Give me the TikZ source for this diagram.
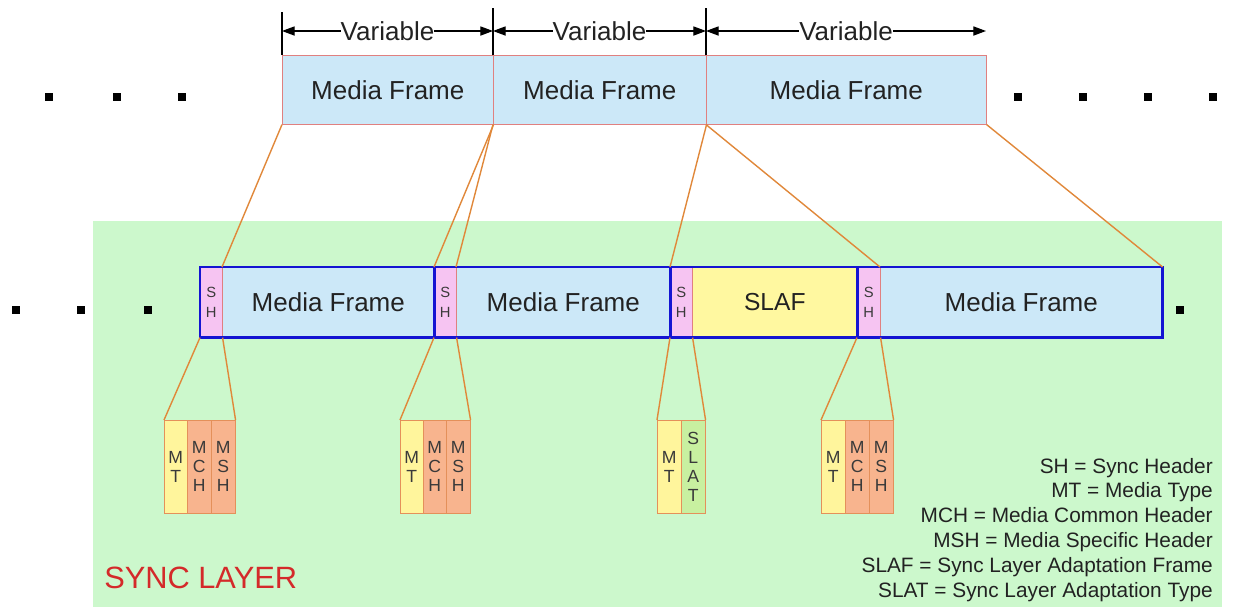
\documentclass[tikz,border=0pt]{standalone}
\usepackage{fontspec}
\setmainfont{Liberation Sans}
\usetikzlibrary{arrows.meta}

\newdimen\pxu \pxu=0.025cm

\definecolor{frameblue}{HTML}{CCE8F8}
\definecolor{framered}{HTML}{E08080}
\definecolor{layergreen}{HTML}{CCF8CC}
\definecolor{syncblue}{HTML}{1414D2}
\definecolor{shpink}{HTML}{F6C4F2}
\definecolor{slafyellow}{HTML}{FFF8A0}
\definecolor{linkorange}{HTML}{E0883A}
\definecolor{mtyellow}{HTML}{FFF59C}
\definecolor{hdorange}{HTML}{F8B48E}
\definecolor{slatgreen}{HTML}{C8F0A0}
\definecolor{celledge}{HTML}{E4905A}
\definecolor{celltext}{HTML}{3A3A3A}
\definecolor{textgray}{HTML}{222222}
\definecolor{syncred}{HTML}{D42A2A}

\tikzset{
  topframe/.style={draw=framered, fill=frameblue, anchor=north west, inner sep=0pt,
    minimum height=69\pxu, text=textgray, font=\fontsize{18.5}{22}\selectfont},
  midframe/.style={topframe, minimum height=70\pxu},
  shcell/.style={midframe, fill=shpink, align=center, text=celltext,
    font=\fontsize{10.5}{14}\selectfont},
  slafcell/.style={midframe, fill=slafyellow, font=\fontsize{17.5}{22}\selectfont},
  cell/.style={draw=celledge, anchor=north west, inner sep=0pt, minimum height=93\pxu,
    align=center, text=celltext, font=\fontsize{12.5}{13.5}\selectfont},
  mtcell/.style={cell, fill=mtyellow},
  hdcell/.style={cell, fill=hdorange},
  slatcell/.style={cell, fill=slatgreen},
  syncbox/.style={draw=syncblue, line width=1.8pt},
  link/.style={draw=linkorange, line width=1pt},
  dimline/.style={black, line width=0.9pt},
  dimarrow/.style={dimline, {Triangle[length=9pt,width=6.5pt]}-{Triangle[length=9pt,width=6.5pt]}},
  varlabel/.style={fill=white, inner sep=0pt, text=textgray, font=\fontsize{18.5}{22}\selectfont},
  dot/.style={fill=black, inner sep=0pt, minimum size=8\pxu},
  legend/.style={anchor=base east, inner sep=0pt, text=textgray, font=\fontsize{14.8}{17}\selectfont},
}

\begin{document}
\begin{tikzpicture}[x=0.025cm, y=-0.025cm]
    \useasboundingbox (0,0) rectangle (1236,607);
    % Sync layer area
    \fill[layergreen] (93,221) rectangle (1222,607);
    \node[anchor=west, inner sep=0pt, text=syncred, font=\fontsize{21.9}{26}\selectfont] (layer) at (104,578) {SYNC LAYER};

    % Media frames
    \node[topframe, minimum width=211\pxu] (t1) at (282,55) {Media Frame};
    \node[topframe, minimum width=213\pxu] (t2) at (493,55) {Media Frame};
    \node[topframe, minimum width=280\pxu] (t3) at (706,55) {Media Frame};

    % Dimension lines
    \coordinate (tk1) at (282,12);
    \coordinate (tk2) at (493,8);
    \coordinate (tk3) at (706,8);
    \coordinate (a1) at (282,31);
    \coordinate (a2) at (493,31);
    \coordinate (a3) at (706,31);
    \coordinate (a4) at (986,31);
    \draw[dimline] (t1.north west) -- (tk1);
    \draw[dimline] (t2.north west) -- (tk2);
    \draw[dimline] (t3.north west) -- (tk3);
    \draw[dimarrow] (a1) -- node[varlabel] (v1) {Variable} (a2);
    \draw[dimarrow] (a2) -- node[varlabel] (v2) {Variable} (a3);
    \draw[dimarrow] (a3) -- node[varlabel] (v3) {Variable} (a4);

    % Sync layer frames
    \node[shcell, minimum width=22\pxu] (sh1) at (200,267) {S\\H};
    \node[midframe, minimum width=212\pxu] (mf1) at (222,267) {Media Frame};
    \node[shcell, minimum width=22\pxu] (sh2) at (434,267) {S\\H};
    \node[midframe, minimum width=214\pxu] (mf2) at (456,267) {Media Frame};
    \node[shcell, minimum width=22\pxu] (sh3) at (670,267) {S\\H};
    \node[slafcell, minimum width=165\pxu] (slaf) at (692,267) {SLAF};
    \node[shcell, minimum width=23\pxu] (sh4) at (857,267) {S\\H};
    \node[midframe, minimum width=282\pxu] (mf3) at (880,267) {Media Frame};
    \draw[syncbox] (sh1.north west) rectangle (mf1.south east);
    \draw[syncbox] (sh2.north west) rectangle (mf2.south east);
    \draw[syncbox] (sh3.north west) rectangle (slaf.south east);
    \draw[syncbox] (sh4.north west) rectangle (mf3.south east);

    % Sync headers
    \node[mtcell, minimum width=23\pxu] (mt1) at (164,420) {M\\T};
    \node[hdcell, minimum width=24\pxu] (mch1) at (187,420) {M\\C\\H};
    \node[hdcell, minimum width=24\pxu] (msh1) at (211,420) {M\\S\\H};
    \node[mtcell, minimum width=23\pxu] (mt2) at (400,420) {M\\T};
    \node[hdcell, minimum width=23\pxu] (mch2) at (423,420) {M\\C\\H};
    \node[hdcell, minimum width=24\pxu] (msh2) at (446,420) {M\\S\\H};
    \node[mtcell, minimum width=24\pxu] (mt3) at (657,420) {M\\T};
    \node[slatcell, minimum width=24\pxu] (slat) at (681,420) {S\\L\\A\\T};
    \node[mtcell, minimum width=24\pxu] (mt4) at (821,420) {M\\T};
    \node[hdcell, minimum width=24\pxu] (mch4) at (845,420) {M\\C\\H};
    \node[hdcell, minimum width=24\pxu] (msh4) at (869,420) {M\\S\\H};

    % Links
    \draw[link] (t1.south west) -- (mf1.north west);
    \draw[link] (t1.south east) -- (sh2.north west);
    \draw[link] (t2.south west) -- (mf2.north west);
    \draw[link] (t2.south east) -- (sh3.north west);
    \draw[link] (t3.south west) -- (mf3.north west);
    \draw[link] (t3.south east) -- (mf3.north east);
    \draw[link] (sh1.south west) -- (mt1.north west);
    \draw[link] (sh1.south east) -- (msh1.north east);
    \draw[link] (sh2.south west) -- (mt2.north west);
    \draw[link] (sh2.south east) -- (msh2.north east);
    \draw[link] (sh3.south west) -- (mt3.north west);
    \draw[link] (sh3.south east) -- (slat.north east);
    \draw[link] (sh4.south west) -- (mt4.north west);
    \draw[link] (sh4.south east) -- (msh4.north east);

    % Continuation dots
    \foreach \x [count=\i] in {49,117,182}
        \node[dot] (dtl\i) at (\x,97) {};
    \foreach \x [count=\i] in {1018,1083,1148,1213}
        \node[dot] (dtr\i) at (\x,97) {};
    \foreach \x [count=\i] in {16,81,148}
        \node[dot] (dml\i) at (\x,310) {};
    \node[dot] (dmr1) at (1180,310) {};

    % Legend
    \foreach \txt [count=\i] in {SH = Sync Header, MT = Media Type, MCH = Media Common Header,
        MSH = Media Specific Header, SLAF = Sync Layer Adaptation Frame, SLAT = Sync Layer Adaptation Type}
        \node[legend] (lg\i) at (1213,{473+24.8*(\i-1)}) {\txt};
\end{tikzpicture}
\end{document}
